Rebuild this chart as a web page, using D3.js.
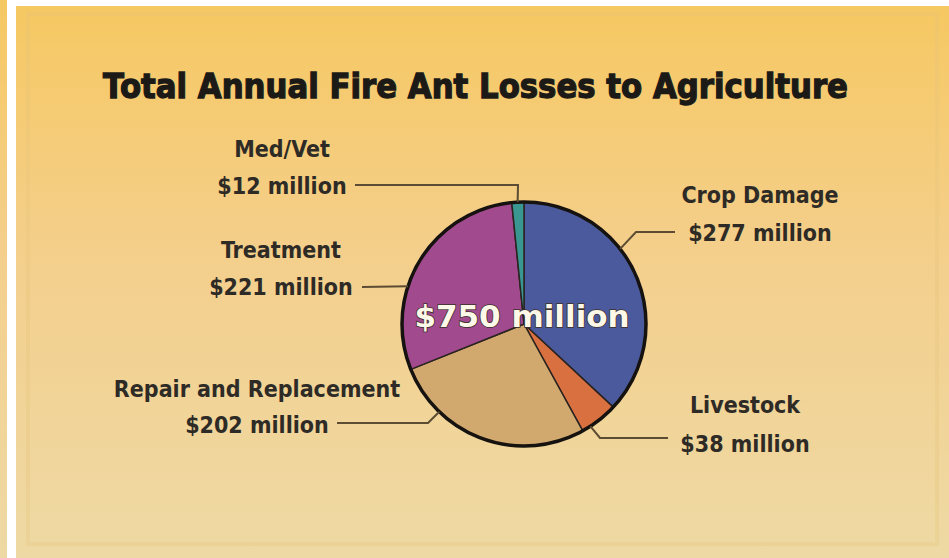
<!DOCTYPE html>
<html>
<head>
<meta charset="utf-8">
<script src="https://cdn.jsdelivr.net/npm/d3@7"></script>
<style>
  body { margin: 0; background: #fff; }
  svg { display: block; }
  .lbl { font-family: "DejaVu Sans Condensed", "DejaVu Sans", sans-serif; font-stretch: condensed; font-weight: bold; fill: #2e2b26; }
</style>
</head>
<body>
<script>
const categories = ["Crop Damage", "Livestock", "Repair and Replacement", "Treatment", "Med/Vet"];
const values = [277, 38, 202, 221, 12];
const sliceColors = ["#4b5a9c", "#d9703f", "#d1a96e", "#a24a8e", "#3a9690"];
const title = "Total Annual Fire Ant Losses to Agriculture";

const width = 949;
const height = 558;
const cx = 524, cy = 324, radius = 122;

// where each label sits and how its leader line runs (layout only)
const labelLayout = [
    { x: 760, y1: 203, y2: 241, path: [[675, 232], [636, 232]], angle: 52 },
    { x: 745, y1: 413, y2: 452, path: [[668, 438], [600, 438]], angle: 147 },
    { x: 257, y1: 397, y2: 433, path: [[337, 423], [428, 423]], angle: 224 },
    { x: 281, y1: 258, y2: 295, path: [[362, 287]], angle: 288 },
    { x: 282, y1: 157, y2: 194, path: [[355, 185], [518, 185]], angle: 357 }
];

const svg = d3.select("body")
    .append("svg")
    .attr("width", width)
    .attr("height", height);

const defs = svg.append("defs");
const grad = defs.append("linearGradient")
    .attr("id", "bg")
    .attr("x1", 0).attr("y1", 0).attr("x2", 0).attr("y2", 1);
grad.append("stop").attr("offset", "0%").attr("stop-color", "#f6c862");
grad.append("stop").attr("offset", "45%").attr("stop-color", "#f4cf8c");
grad.append("stop").attr("offset", "100%").attr("stop-color", "#eed9a4");

// background strips
svg.append("rect").attr("x", 0).attr("y", 0).attr("width", 7).attr("height", height).attr("fill", "url(#bg)");
svg.append("rect").attr("x", 16).attr("y", 6).attr("width", width - 16).attr("height", height - 6).attr("fill", "url(#bg)");
svg.append("rect")
    .attr("x", 28).attr("y", 14).attr("width", width - 40).attr("height", height - 28)
    .attr("fill", "none")
    .attr("stroke", "#e6c27a")
    .attr("stroke-opacity", 0.3)
    .attr("stroke-width", 4);

svg.append("text")
    .attr("x", 103)
    .attr("y", 98)
    .attr("textLength", 745)
    .attr("lengthAdjust", "spacingAndGlyphs")
    .style("font-family", "'DejaVu Sans', sans-serif")
    .style("font-weight", "bold")
    .style("font-size", "33px")
    .style("fill", "#1c1a17")
    .style("stroke", "#1c1a17")
    .style("stroke-width", 1.3)
    .text(title);

const pie = d3.pie().sort(null).value(d => d);
const arcs = pie(values);
const arc = d3.arc().innerRadius(0).outerRadius(radius);

const chart = svg.append("g")
    .attr("transform", `translate(${cx},${cy})`);

chart.selectAll("path.slice")
    .data(arcs)
    .enter()
    .append("path")
    .attr("class", "slice")
    .attr("d", arc)
    .attr("fill", (d, i) => sliceColors[i])
    .attr("stroke", "#2a2320")
    .attr("stroke-width", 1.5);

chart.append("circle")
    .attr("r", radius)
    .attr("fill", "none")
    .attr("stroke", "#15120f")
    .attr("stroke-width", 3.5);

chart.append("text")
    .attr("x", -2)
    .attr("y", 3)
    .attr("text-anchor", "middle")
    .style("font-family", "'DejaVu Sans', sans-serif")
    .style("font-weight", "bold")
    .style("font-size", "31px")
    .style("fill", "#fdf8e8")
    .style("stroke", "#3b2f2a")
    .style("stroke-width", 1.6)
    .style("paint-order", "stroke")
    .text(`$${d3.sum(values)} million`);

// leader lines
const leaders = svg.append("g")
    .attr("fill", "none")
    .attr("stroke", "#5b4c33")
    .attr("stroke-width", 2);

labelLayout.forEach((l, i) => {
    const edge = d3.pointRadial(l.angle * Math.PI / 180, radius);
    const pts = l.path.concat([[cx + edge[0], cy + edge[1]]]);
    leaders.append("path").attr("d", d3.line()(pts));
});

const labels = svg.append("g");
labelLayout.forEach((l, i) => {
    labels.append("text")
        .attr("class", "lbl")
        .attr("x", l.x)
        .attr("y", l.y1)
        .attr("text-anchor", "middle")
        .style("font-size", "23px")
        .text(categories[i]);
    labels.append("text")
        .attr("class", "lbl")
        .attr("x", l.x)
        .attr("y", l.y2)
        .attr("text-anchor", "middle")
        .style("font-size", "23px")
        .text(`$${values[i]} million`);
});
</script>
</body>
</html>
